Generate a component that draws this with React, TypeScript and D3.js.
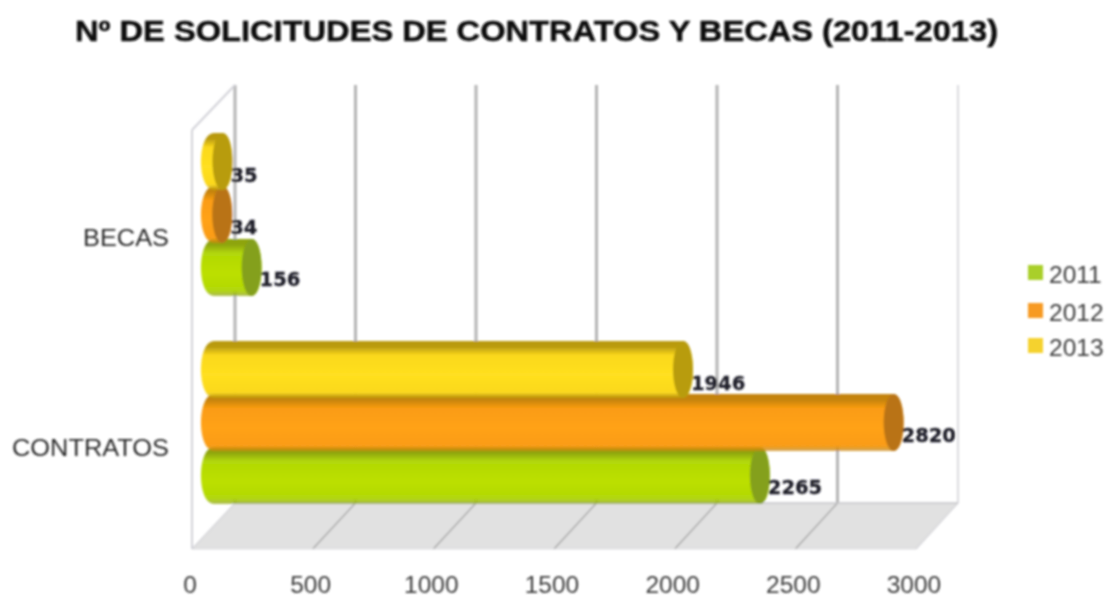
import React from "react";
import * as d3 from "d3";

const title = "Nº DE SOLICITUDES DE CONTRATOS Y BECAS (2011-2013)";
const categories = ["BECAS", "CONTRATOS"];
const years = ["2013", "2012", "2011"];
const legendYears = ["2011", "2012", "2013"];
const values2011 = [156, 2265];
const values2012 = [34, 2820];
const values2013 = [35, 1946];
const ticks = [0, 500, 1000, 1500, 2000, 2500, 3000];
const seriesByYear: Record<string, number[]> = { "2011": values2011, "2012": values2012, "2013": values2013 };
const palette: Record<string, { hi: string; mid: string; dark: string; cap: string; leg: string }> = {
  "2011": { hi: "#bce000", mid: "#b2d808", dark: "#8ea40c", cap: "#84a01a", leg: "#a9cf2c" },
  "2012": { hi: "#ffa214", mid: "#fb9c12", dark: "#c4830c", cap: "#b97318", leg: "#f79a22" },
  "2013": { hi: "#ffe020", mid: "#fbd81c", dark: "#b99a10", cap: "#b89c10", leg: "#f5d22e" },
};
const labelNudge: Record<string, number> = { "2011": 0, "2012": 1, "2013": 2 };

const W = 1113, H = 608;
const xBack = d3.scaleLinear().domain([0, 3000]).range([235, 958]);
const xFront = d3.scaleLinear().domain([0, 3000]).range([192, 916]);
const xBar = d3.scaleLinear().domain([0, 3000]).range([214, 937]);
const xLabel = d3.scaleLinear().domain([0, 3000]).range([190, 914]);
const yCat = d3.scaleBand().domain(categories).range([133, 549]);
const ySer = d3.scaleBand().domain(years).range([0, 159]);
const barH = 57;
const floorBack = 503, floorFront = 549, wallTop = 85, wallFrontTop = 130;

function cyl(x0: number, x1: number, top: number, h: number, rxL: number, rxR: number) {
  const p = d3.path();
  p.moveTo(x0, top);
  p.lineTo(x1, top);
  p.bezierCurveTo(x1 + rxR * 1.33, top, x1 + rxR * 1.33, top + h, x1, top + h);
  p.lineTo(x0, top + h);
  p.bezierCurveTo(x0 - rxL * 1.45, top + h, x0 - rxL * 1.45, top, x0, top);
  p.closePath();
  return p.toString();
}

export default function App() {
  const labelFont = "'DejaVu Sans', sans-serif";
  const sans = "'Liberation Sans', Arial, sans-serif";
  const drawOrder = ["2011", "2012", "2013"];
  return (
    <svg width={W} height={H} style={{ position: "absolute", left: 0, top: 0, background: "#fff" }}>
      <defs>
        {drawOrder.map((y) => (
          <linearGradient key={y} id={`g${y}`} x1="0" y1="0" x2="0" y2="1">
            <stop offset="0" stopColor={palette[y].dark} />
            <stop offset="0.1" stopColor={palette[y].dark} />
            <stop offset="0.25" stopColor={palette[y].mid} />
            <stop offset="0.6" stopColor={palette[y].hi} />
            <stop offset="0.9" stopColor={palette[y].mid} />
            <stop offset="1" stopColor={palette[y].dark} stopOpacity="0.7" />
          </linearGradient>
        ))}
        <filter id="soft" x="-5%" y="-5%" width="110%" height="110%">
          <feGaussianBlur stdDeviation="0.8" />
        </filter>
      </defs>
      <g filter="url(#soft)">
        <text x={536.5} y={41} textAnchor="middle" fontFamily={sans} fontWeight="bold" fontSize={29} fill="#111" stroke="#111" strokeWidth={0.5}
          textLength={923} lengthAdjust="spacingAndGlyphs">{title}</text>

        <polygon points={`${xFront(0)},${floorFront} ${xBack(0)},${floorBack} ${xBack(3000)},${floorBack} ${xFront(3000)},${floorFront}`} fill="#e1e1e1" />
        {ticks.map((t) => (
          <g key={t}>
            <line x1={xBack(t)} x2={xBack(t)} y1={wallTop} y2={floorBack} stroke={t === 3000 ? "#cfcfd4" : "#b4b4b4"} strokeWidth={t === 3000 ? 1.5 : 3} />
            <line x1={xFront(t)} x2={xBack(t)} y1={floorFront} y2={floorBack} stroke={t === 0 || t === 3000 ? "#d4d4d8" : "#a0a0a0"} strokeWidth={1.2} />
            <text x={xLabel(t)} y={593} textAnchor="middle" fontFamily={sans} fontSize={24.5} fill="#3c3c3c">{t}</text>
          </g>
        ))}
        <line x1={xBack(0)} x2={xBack(3000)} y1={floorBack} y2={floorBack} stroke="#c4c4c8" strokeWidth={1.5} />
        <line x1={xFront(0)} x2={xFront(3000)} y1={floorFront} y2={floorFront} stroke="#dcdce0" strokeWidth={1.2} />
        <line x1={xFront(0)} x2={xFront(0)} y1={wallFrontTop} y2={floorFront} stroke="#d2d2d8" strokeWidth={2} />
        <line x1={xFront(0)} x2={xBack(0)} y1={wallFrontTop} y2={wallTop} stroke="#d2d2d8" strokeWidth={2} />

        {categories.map((c, ci) => (
          <g key={c}>
            <text x={169} y={yCat(c)! + (ci === 0 ? 113 : 115)} textAnchor="end" fontFamily={sans} fontSize={23} fill="#2c2c2c"
              textLength={c === "BECAS" ? 86 : 157} lengthAdjust="spacingAndGlyphs">{c}</text>
            {drawOrder.map((y) => {
              const v = seriesByYear[y][ci];
              const top = yCat(c)! + ySer(y)!;
              const x0 = xBar(0), x1 = xBar(v);
              return (
                <g key={y}>
                  <path d={cyl(x0, x1, top, barH, 12, 10)} fill={`url(#g${y})`} />
                  <ellipse cx={x1} cy={top + barH / 2} rx={10} ry={barH / 2} fill={palette[y].cap} />
                </g>
              );
            })}
          </g>
        ))}
        {categories.map((c, ci) =>
          drawOrder.map((y) => {
            const v = seriesByYear[y][ci];
            const top = yCat(c)! + ySer(y)!;
            return (
              <text key={c + y} x={xBar(v) + 8} y={top + barH - 10 + labelNudge[y]} fontFamily={labelFont} fontWeight="bold" fontSize={19.5} fill="#1d1d28" stroke="#1d1d28" strokeWidth={0.3}>{v}</text>
            );
          })
        )}

        {legendYears.map((y, i) => {
          const cy = [273, 311, 346][i];
          return (
            <g key={y}>
              <rect x={1028} y={cy - 8} width={15} height={15} fill={palette[y].leg} />
              <text x={1049} y={cy + 10} fontFamily={sans} fontSize={24.5} fill="#3c3c3c">{y}</text>
            </g>
          );
        })}
      </g>
    </svg>
  );
}
